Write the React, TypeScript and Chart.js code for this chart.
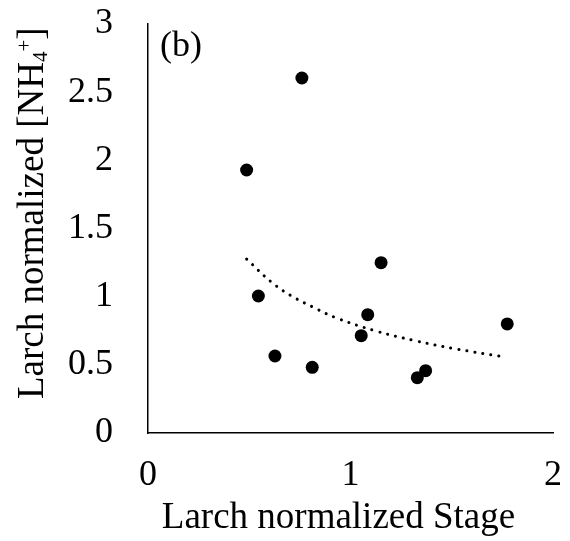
import React, { useEffect, useRef } from "react";
import { Chart, registerables } from "chart.js";

Chart.register(...registerables);

const FONT = '"Liberation Serif", "Times New Roman", serif';

// Scatter data (Larch normalized Stage vs Larch normalized [NH4+])
const stageX = [0.487, 0.76, 0.545, 0.627, 0.811, 1.053, 1.085, 1.151, 1.33, 1.371, 1.774];
const nh4Y = [1.929, 2.604, 1.005, 0.565, 0.482, 0.714, 0.868, 1.249, 0.406, 0.457, 0.8];

// Dotted trend line
const trendX = [0.487, 0.611, 0.709, 0.817, 0.927, 1.121, 1.319, 1.516, 1.77];
const trendY = [1.276, 1.105, 1.005, 0.922, 0.846, 0.75, 0.677, 0.618, 0.556];

const xMin = 0;
const xMax = 2;
const xStep = 1;
const yMin = 0;
const yMax = 3;
const yStep = 0.5;

const panelLabel = "(b)";
const xTitle = "Larch normalized Stage";
const yTitleMain = "Larch normalized [NH";
const yTitleSub = "4";
const yTitleSup = "+";
const yTitleEnd = "]";

const annotPlugin = {
  id: "annot",
  afterDraw(chart: any) {
    const ctx = chart.ctx as CanvasRenderingContext2D;
    const { left, top, right, bottom } = chart.chartArea;
    ctx.save();
    ctx.fillStyle = "#000";
    ctx.textAlign = "left";
    ctx.textBaseline = "alphabetic";
    ctx.font = `36px ${FONT}`;
    ctx.fillText(panelLabel, left + 12, top + 32);

    // x axis title
    ctx.font = `37px ${FONT}`;
    ctx.textAlign = "center";
    ctx.fillText(xTitle, (left + right) / 2 - 12, bottom + 95);

    // y axis title with sub/superscript
    ctx.textAlign = "left";
    ctx.translate(43, 399);
    ctx.rotate(-Math.PI / 2);
    let x = 0;
    ctx.font = `37px ${FONT}`;
    ctx.fillText(yTitleMain, x, 0);
    x += ctx.measureText(yTitleMain).width;
    ctx.font = `21px ${FONT}`;
    ctx.fillText(yTitleSub, x, 4);
    x += ctx.measureText(yTitleSub).width;
    ctx.fillText(yTitleSup, x, -12);
    x += ctx.measureText(yTitleSup).width;
    ctx.font = `37px ${FONT}`;
    ctx.fillText(yTitleEnd, x, 0);
    ctx.restore();
  },
};

export default function App() {
  const ref = useRef<HTMLCanvasElement | null>(null);

  useEffect(() => {
    document.body.style.margin = "0";
    const canvas = ref.current;
    if (!canvas) return;
    Chart.defaults.font.family = FONT;
    const chart = new Chart(canvas, {
      type: "scatter",
      data: {
        datasets: [
          {
            label: "data",
            data: stageX.map((x, i) => ({ x, y: nh4Y[i] })),
            backgroundColor: "#000",
            borderColor: "#000",
            borderWidth: 0,
            pointRadius: 6.5,
            pointHoverRadius: 6.5,
            showLine: false,
          },
          {
            label: "trend",
            type: "line",
            data: trendX.map((x, i) => ({ x, y: trendY[i] })),
            borderColor: "#000",
            borderWidth: 3,
            borderDash: [0.1, 8],
            borderCapStyle: "round",
            pointRadius: 0,
            tension: 0.4,
            fill: false,
          } as any,
        ],
      },
      options: {
        animation: false,
        responsive: false,
        layout: { padding: { top: 24, right: 17, left: 0, bottom: 0 } },
        plugins: {
          legend: { display: false },
          tooltip: { enabled: false },
        },
        scales: {
          x: {
            type: "linear",
            min: xMin,
            max: xMax,
            ticks: {
              stepSize: xStep,
              color: "#000",
              font: { family: FONT, size: 36 },
              padding: 21,
              callback: (v: any) => String(v),
            },
            grid: { display: false, drawTicks: false },
            border: { display: true, color: "#000", width: 1.5 },
            title: { display: false, text: xTitle },
            afterFit: (s: any) => {
              s.height = 108;
              s.paddingLeft = 0;
              s.paddingRight = 0;
            },
          },
          y: {
            type: "linear",
            min: yMin,
            max: yMax,
            ticks: {
              stepSize: yStep,
              color: "#000",
              font: { family: FONT, size: 36 },
              padding: 35,
              callback: (v: any) => String(v),
            },
            grid: { display: false, drawTicks: false },
            border: { display: true, color: "#000", width: 1.5 },
            afterFit: (s: any) => {
              s.width = 148;
              s.paddingTop = 0;
              s.paddingBottom = 0;
            },
          },
        },
      },
      plugins: [annotPlugin],
    });
    return () => chart.destroy();
  }, []);

  return (
    <div style={{ width: 570, height: 541, position: "relative", background: "#fff" }}>
      <canvas ref={ref} width={570} height={541} />
    </div>
  );
}
